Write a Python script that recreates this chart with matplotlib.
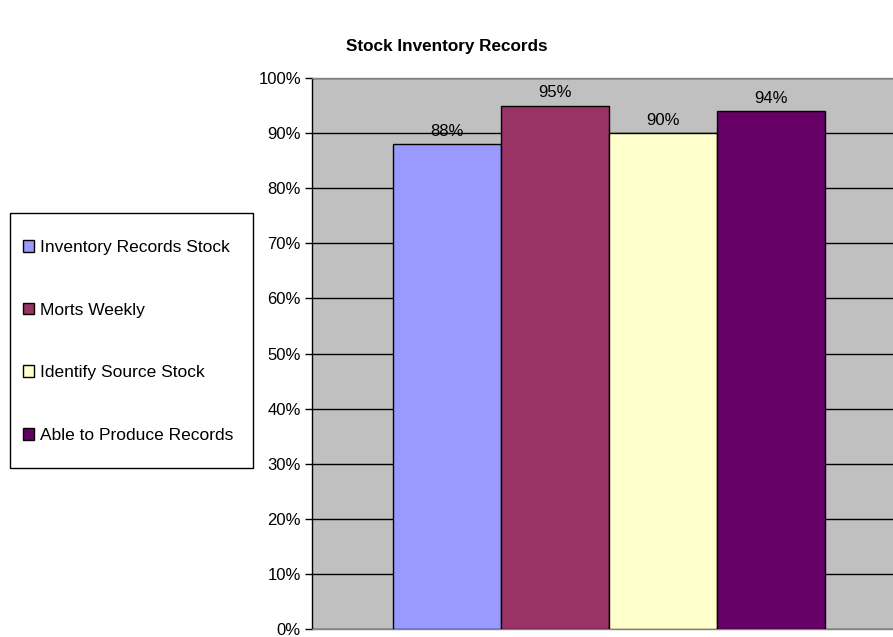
import matplotlib.pyplot as plt
from matplotlib.patches import Rectangle
from matplotlib.ticker import PercentFormatter

plt.rcParams['font.family'] = ['Liberation Sans', 'DejaVu Sans']

# datos
series = ['Inventory Records Stock', 'Morts Weekly', 'Identify Source Stock', 'Able to Produce Records']
valores = [88, 95, 90, 94]
colores = ['#9999FF', '#993366', '#FFFFCC', '#660066']

fig = plt.figure(figsize=(8.93, 6.37), dpi=100)
ax = fig.add_axes([312 / 893, 8 / 637, 581 / 893, 551 / 637])
ax.set_facecolor('#C0C0C0')

# barras de una sola categoria
for i, (nombre, v, c) in enumerate(zip(series, valores, colores)):
    ax.bar(i, v, width=1.0, color=c, edgecolor='black', linewidth=1.0, label=nombre, zorder=3)
    ax.annotate(f'{v}%', (i, v), xytext=(0, 4), textcoords='offset points',
                ha='center', va='bottom', fontsize=12, zorder=4)

ax.set_xlim(-0.5 - 81 / 108, 3.5 + 68 / 108)
ax.set_ylim(0, 100)
ax.set_yticks(range(0, 101, 10))
ax.yaxis.set_major_formatter(PercentFormatter(decimals=0))
ax.tick_params(axis='y', labelsize=12, length=5, width=1, direction='out', pad=3)
ax.set_xticks([])
ax.grid(axis='y', color='black', linewidth=1.0, zorder=1)
ax.set_axisbelow(True)

ax.spines['left'].set_color('black')
ax.spines['left'].set_linewidth(1.0)
for s in ['top', 'bottom']:
    ax.spines[s].set_color('#808080')
    ax.spines[s].set_linewidth(1.0)
ax.spines['right'].set_visible(False)

fig.suptitle('Stock Inventory Records', x=447 / 893, y=1 - 47 / 637, va='center',
             fontsize=12.3, fontweight='bold')

# leyenda con marco aparte
caja = Rectangle((10 / 893, 1 - 468 / 637), 243 / 893, 255 / 637, transform=fig.transFigure,
                 facecolor='white', edgecolor='black', linewidth=1.0)
fig.add_artist(caja)
leg = fig.legend(loc='center', bbox_to_anchor=(128 / 893, 1 - 341.5 / 637),
                 fontsize=12.5, frameon=False,
                 handlelength=0.65, handleheight=0.65, handletextpad=0.3,
                 labelspacing=2.75, borderpad=0, borderaxespad=0)

plt.savefig('out.png', dpi=100)
